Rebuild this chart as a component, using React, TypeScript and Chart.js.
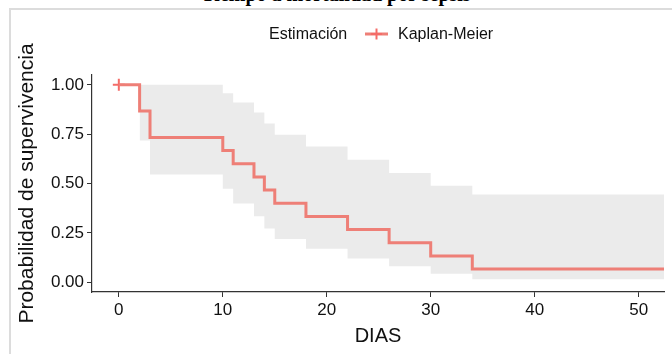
import React, { useEffect, useRef } from "react";
import { Chart, registerables } from "chart.js";
Chart.register(...registerables);

const titleText = "Tiempo a mortalidad por sepsis";
const xTitle = "DIAS";
const yTitle = "Probabilidad de supervivencia";
const legendTitle = "Estimación";
const seriesName = "Kaplan-Meier";

const X_MIN = -2.58;
const X_MAX = 52.44;
const Y_MIN = -0.05;
const Y_MAX = 1.05;

const kmTimes = [0, 2, 3, 10, 11, 13, 14, 15, 18, 22, 26, 30, 34, 52.44];
const kmSurv = [1.0, 0.867, 0.733, 0.667, 0.6, 0.533, 0.467, 0.4, 0.333, 0.267, 0.2, 0.133, 0.0667, 0.0667];

const bandTimes = [2, 3, 10, 11, 13, 14, 15, 18, 22, 26, 30, 34, 52.44];
const bandUpper = [1.0, 1.0, 0.958, 0.91, 0.86, 0.804, 0.747, 0.688, 0.621, 0.553, 0.489, 0.444, 0.444];
const bandLower = [0.718, 0.545, 0.474, 0.398, 0.334, 0.272, 0.219, 0.169, 0.12, 0.081, 0.042, 0.014, 0.014];

const censorTimes = [0];
const censorSurv = [1.0];

const xTicks = [0, 10, 20, 30, 40, 50];
const yTicks = [0, 0.25, 0.5, 0.75, 1.0];

const LINE = "#EE7F77";
const MARK = "#F46C68";
const BAND = "#EBEBEB";
const AXIS = "#333333";
const FONT = "'Liberation Sans', Arial, sans-serif";

export default function App() {
  const ref = useRef<HTMLCanvasElement | null>(null);

  useEffect(() => {
    if (!ref.current) return;
    const pts = (xs: number[], ys: number[]) => xs.map((x, i) => ({ x, y: ys[i] }));
    const chart = new Chart(ref.current, {
      type: "line",
      data: {
        datasets: [
          {
            label: seriesName,
            data: pts(kmTimes, kmSurv),
            borderColor: LINE,
            borderWidth: 3,
            stepped: true,
            pointRadius: 0,
            fill: false,
          },
          {
            label: "censor",
            data: pts(censorTimes, censorSurv),
            showLine: false,
            pointStyle: "cross",
            pointRadius: 6,
            pointBorderWidth: 2,
            pointBorderColor: MARK,
            borderColor: MARK,
          },
          {
            label: "upper",
            data: pts(bandTimes, bandUpper),
            borderWidth: 0,
            borderColor: "rgba(0,0,0,0)",
            backgroundColor: BAND,
            stepped: true,
            pointRadius: 0,
            fill: "+1",
          },
          {
            label: "lower",
            data: pts(bandTimes, bandLower),
            borderWidth: 0,
            borderColor: "rgba(0,0,0,0)",
            stepped: true,
            pointRadius: 0,
            fill: false,
          },
        ],
      },
      options: {
        animation: false,
        responsive: false,
        maintainAspectRatio: false,
        layout: { padding: { top: 75, right: 3, left: 0, bottom: 0 } },
        plugins: { legend: { display: false }, tooltip: { enabled: false } },
        scales: {
          x: {
            type: "linear",
            min: X_MIN,
            max: X_MAX,
            afterBuildTicks: (s: any) => {
              s.ticks = xTicks.map((v) => ({ value: v }));
            },
            afterFit: (s: any) => {
              s.height = 62;
            },
            grid: { drawOnChartArea: false, drawTicks: true, tickLength: 5, color: AXIS, tickWidth: 1 },
            border: { display: true, color: AXIS, width: 1.2 },
            ticks: {
              color: "#111",
              font: { family: FONT, size: 17 },
              padding: 3,
              maxRotation: 0,
              callback: (v: any) => String(v),
            },
            title: {
              display: true,
              text: xTitle,
              color: "#111",
              font: { family: FONT, size: 20 },
              padding: { top: 0, bottom: 6 },
            },
          },
          y: {
            type: "linear",
            min: Y_MIN,
            max: Y_MAX,
            afterBuildTicks: (s: any) => {
              s.ticks = yTicks.map((v) => ({ value: v }));
            },
            afterFit: (s: any) => {
              s.width = 92;
            },
            grid: { drawOnChartArea: false, drawTicks: true, tickLength: 5, color: AXIS, tickWidth: 1 },
            border: { display: true, color: AXIS, width: 1.2 },
            ticks: {
              color: "#111",
              font: { family: FONT, size: 17 },
              padding: 3,
              callback: (v: any) => Number(v).toFixed(2),
            },
            title: {
              display: true,
              text: yTitle,
              color: "#111",
              font: { family: FONT, size: 21 },
              padding: { top: 15, bottom: 0 },
            },
          },
        },
      },
    });
    return () => chart.destroy();
  }, []);

  return (
    <div style={{ position: "fixed", left: 0, top: 0, width: 672, height: 354, background: "#fff", overflow: "hidden" }}>
      <div
        style={{
          position: "absolute",
          left: 0,
          width: 672,
          top: -16,
          textAlign: "center",
          fontFamily: "'Liberation Serif', 'Times New Roman', serif",
          fontWeight: "bold",
          fontSize: 20,
          lineHeight: "20px",
          color: "#000",
        }}
      >
        {titleText}
      </div>
      <div
        style={{
          position: "absolute",
          left: 9,
          top: 8,
          width: 700,
          height: 400,
          borderLeft: "2px solid #dcdcdc",
          borderTop: "2px solid #dcdcdc",
        }}
      />
      <canvas ref={ref} width={672} height={354} style={{ position: "absolute", left: 0, top: 0, width: 672, height: 354 }} />
      <div style={{ position: "absolute", left: 269, top: 26, fontFamily: FONT, fontSize: 16, lineHeight: "16px", color: "#111", whiteSpace: "nowrap" }}>
        {legendTitle}
      </div>
      <svg style={{ position: "absolute", left: 364, top: 27 }} width={25} height={14}>
        <line x1={1} y1={7} x2={24} y2={7} stroke={LINE} strokeWidth={3} />
        <line x1={12.5} y1={1.5} x2={12.5} y2={12.5} stroke={MARK} strokeWidth={2} />
        <line x1={7} y1={7} x2={18} y2={7} stroke={MARK} strokeWidth={2} />
      </svg>
      <div style={{ position: "absolute", left: 398, top: 26, fontFamily: FONT, fontSize: 16, lineHeight: "16px", color: "#111", whiteSpace: "nowrap" }}>
        {seriesName}
      </div>
    </div>
  );
}
